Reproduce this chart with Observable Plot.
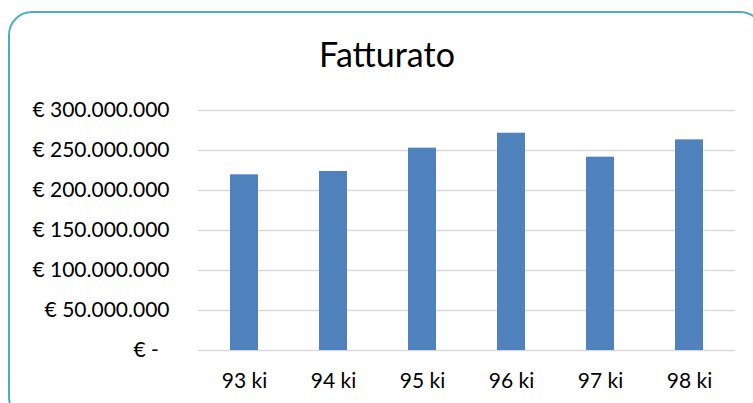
<!DOCTYPE html>
<html>
<head>
<meta charset="utf-8">
<script src="https://cdn.jsdelivr.net/npm/d3@7"></script>
<script src="https://cdn.jsdelivr.net/npm/@observablehq/plot@0.6"></script>
<style>
  html, body { margin: 0; padding: 0; background: #fff; }
  #wrap { position: relative; width: 753px; height: 403px; overflow: hidden; background: #fff; }
  #border { position: absolute; left: 8px; top: 11px; width: 756px; height: 410px;
            border: 2.5px solid #4bacc6; border-radius: 24px; box-sizing: border-box; }
  #title { position: absolute; left: 9px; width: 756px; top: 37px; text-align: center;
           font-family: Lato, sans-serif; font-size: 34px; line-height: 34px; color: #000; }
  #chart { position: absolute; left: 0; top: 0; }
</style>
</head>
<body>
<div id="wrap">
  <div id="border"></div>
  <div id="chart"></div>
  <div id="title">Fatturato</div>
</div>
<script>
const categories = ["93 ki", "94 ki", "95 ki", "96 ki", "97 ki", "98 ki"];
const fatturato = [219600000, 223800000, 252900000, 271600000, 241700000, 263300000];
const yTicks = [0, 50000000, 100000000, 150000000, 200000000, 250000000, 300000000];

const data = categories.map((c, i) => ({anno: c, valore: fatturato[i]}));

const fmt = d => d === 0 ? "€ -\u00a0\u00a0" : "€ " + d3.format(",")(d).replace(/,/g, ".");

const chart = Plot.plot({
  width: 753,
  height: 403,
  marginLeft: 198,
  marginRight: 18,
  marginTop: 110,
  marginBottom: 53,
  style: {fontFamily: "Lato, sans-serif", fontSize: "21px", color: "#000", background: "transparent", overflow: "visible"},
  x: {domain: categories, paddingInner: 0.687, paddingOuter: 0.3435, label: null, tickSize: 0, tickPadding: 23},
  y: {domain: [0, 300000000], ticks: yTicks, tickFormat: fmt, label: null, tickSize: 0, tickPadding: 29},
  marks: [
    Plot.ruleY(yTicks, {stroke: "#d9d9d9", strokeWidth: 1.6}),
    Plot.barY(data, {x: "anno", y: "valore", fill: "#4f81bd"}),
    Plot.axisY({ticks: yTicks, tickFormat: fmt, tickSize: 0, tickPadding: 29, label: null}),
    Plot.axisX({tickSize: 0, tickPadding: 23, label: null})
  ]
});
document.getElementById("chart").appendChild(chart);
</script>
</body>
</html>
